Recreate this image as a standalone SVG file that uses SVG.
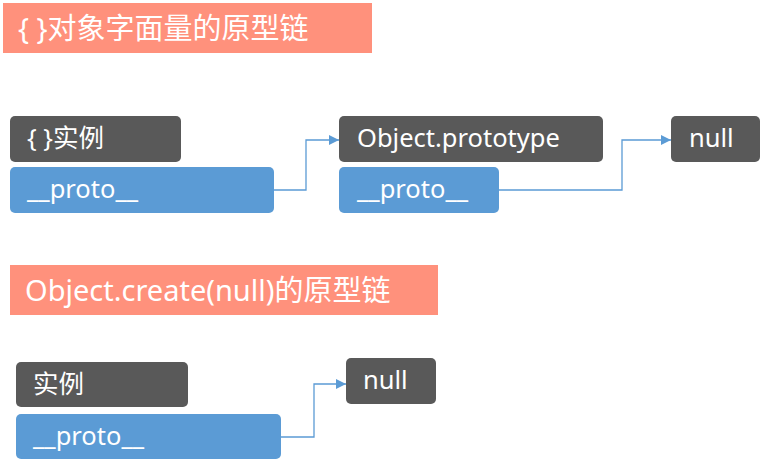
<svg xmlns="http://www.w3.org/2000/svg" width="761" height="467" viewBox="0 0 761 467">
<defs>
<style>
.title{fill:#ff917c}
.dark{fill:#595959}
.blue{fill:#5b9bd5}
text{fill:#ffffff;font-family:"Noto Sans","Noto Sans CJK SC",sans-serif;font-size:25.5px}
.tt{font-size:29px}
.conn{fill:none;stroke:#5b9bd5;stroke-width:1.3}
</style>
<marker id="arr" viewBox="0 0 10 10" refX="10" refY="5" markerWidth="10" markerHeight="10" markerUnits="userSpaceOnUse" orient="auto">
<path d="M0,0 L10,5 L0,10 z" fill="#5b9bd5"/>
</marker>
</defs>
<g id="title1"><rect class="title" x="3" y="3" width="369" height="50"/><text class="tt" x="18" y="39">{ }对象字面量的原型链</text></g>
<g id="inst1"><rect class="dark" x="10" y="116" width="171" height="46" rx="5"/><text x="27" y="147">{ }实例</text></g>
<g id="proto1"><rect class="blue" x="10" y="167" width="264" height="46" rx="5"/><text x="27" y="198">__proto__</text></g>
<g id="objproto"><rect class="dark" x="339" y="116" width="264" height="46" rx="5"/><text x="357" y="147">Object.prototype</text></g>
<g id="proto2"><rect class="blue" x="339" y="167" width="160" height="46" rx="5"/><text x="357" y="198">__proto__</text></g>
<g id="null1"><rect class="dark" x="671" y="116" width="89" height="46" rx="5"/><text x="689" y="147">null</text></g>
<g id="title2"><rect class="title" x="10" y="265" width="428" height="50"/><text class="tt" x="25" y="301">Object.create(null)的原型链</text></g>
<g id="inst2"><rect class="dark" x="16" y="362" width="172" height="45" rx="5"/><text x="33" y="393">实例</text></g>
<g id="proto3"><rect class="blue" x="16" y="414" width="265" height="45" rx="5"/><text x="33" y="445">__proto__</text></g>
<g id="null2"><rect class="dark" x="346" y="358" width="90" height="46" rx="5"/><text x="363" y="389">null</text></g>
<g id="connectors">
<polyline class="conn" points="274,190 306,190 306,140 339,140" marker-end="url(#arr)"/>
<polyline class="conn" points="499,190 622,190 622,140 671,140" marker-end="url(#arr)"/>
<polyline class="conn" points="281,437 314,437 314,384 346,384" marker-end="url(#arr)"/>
</g>
</svg>
